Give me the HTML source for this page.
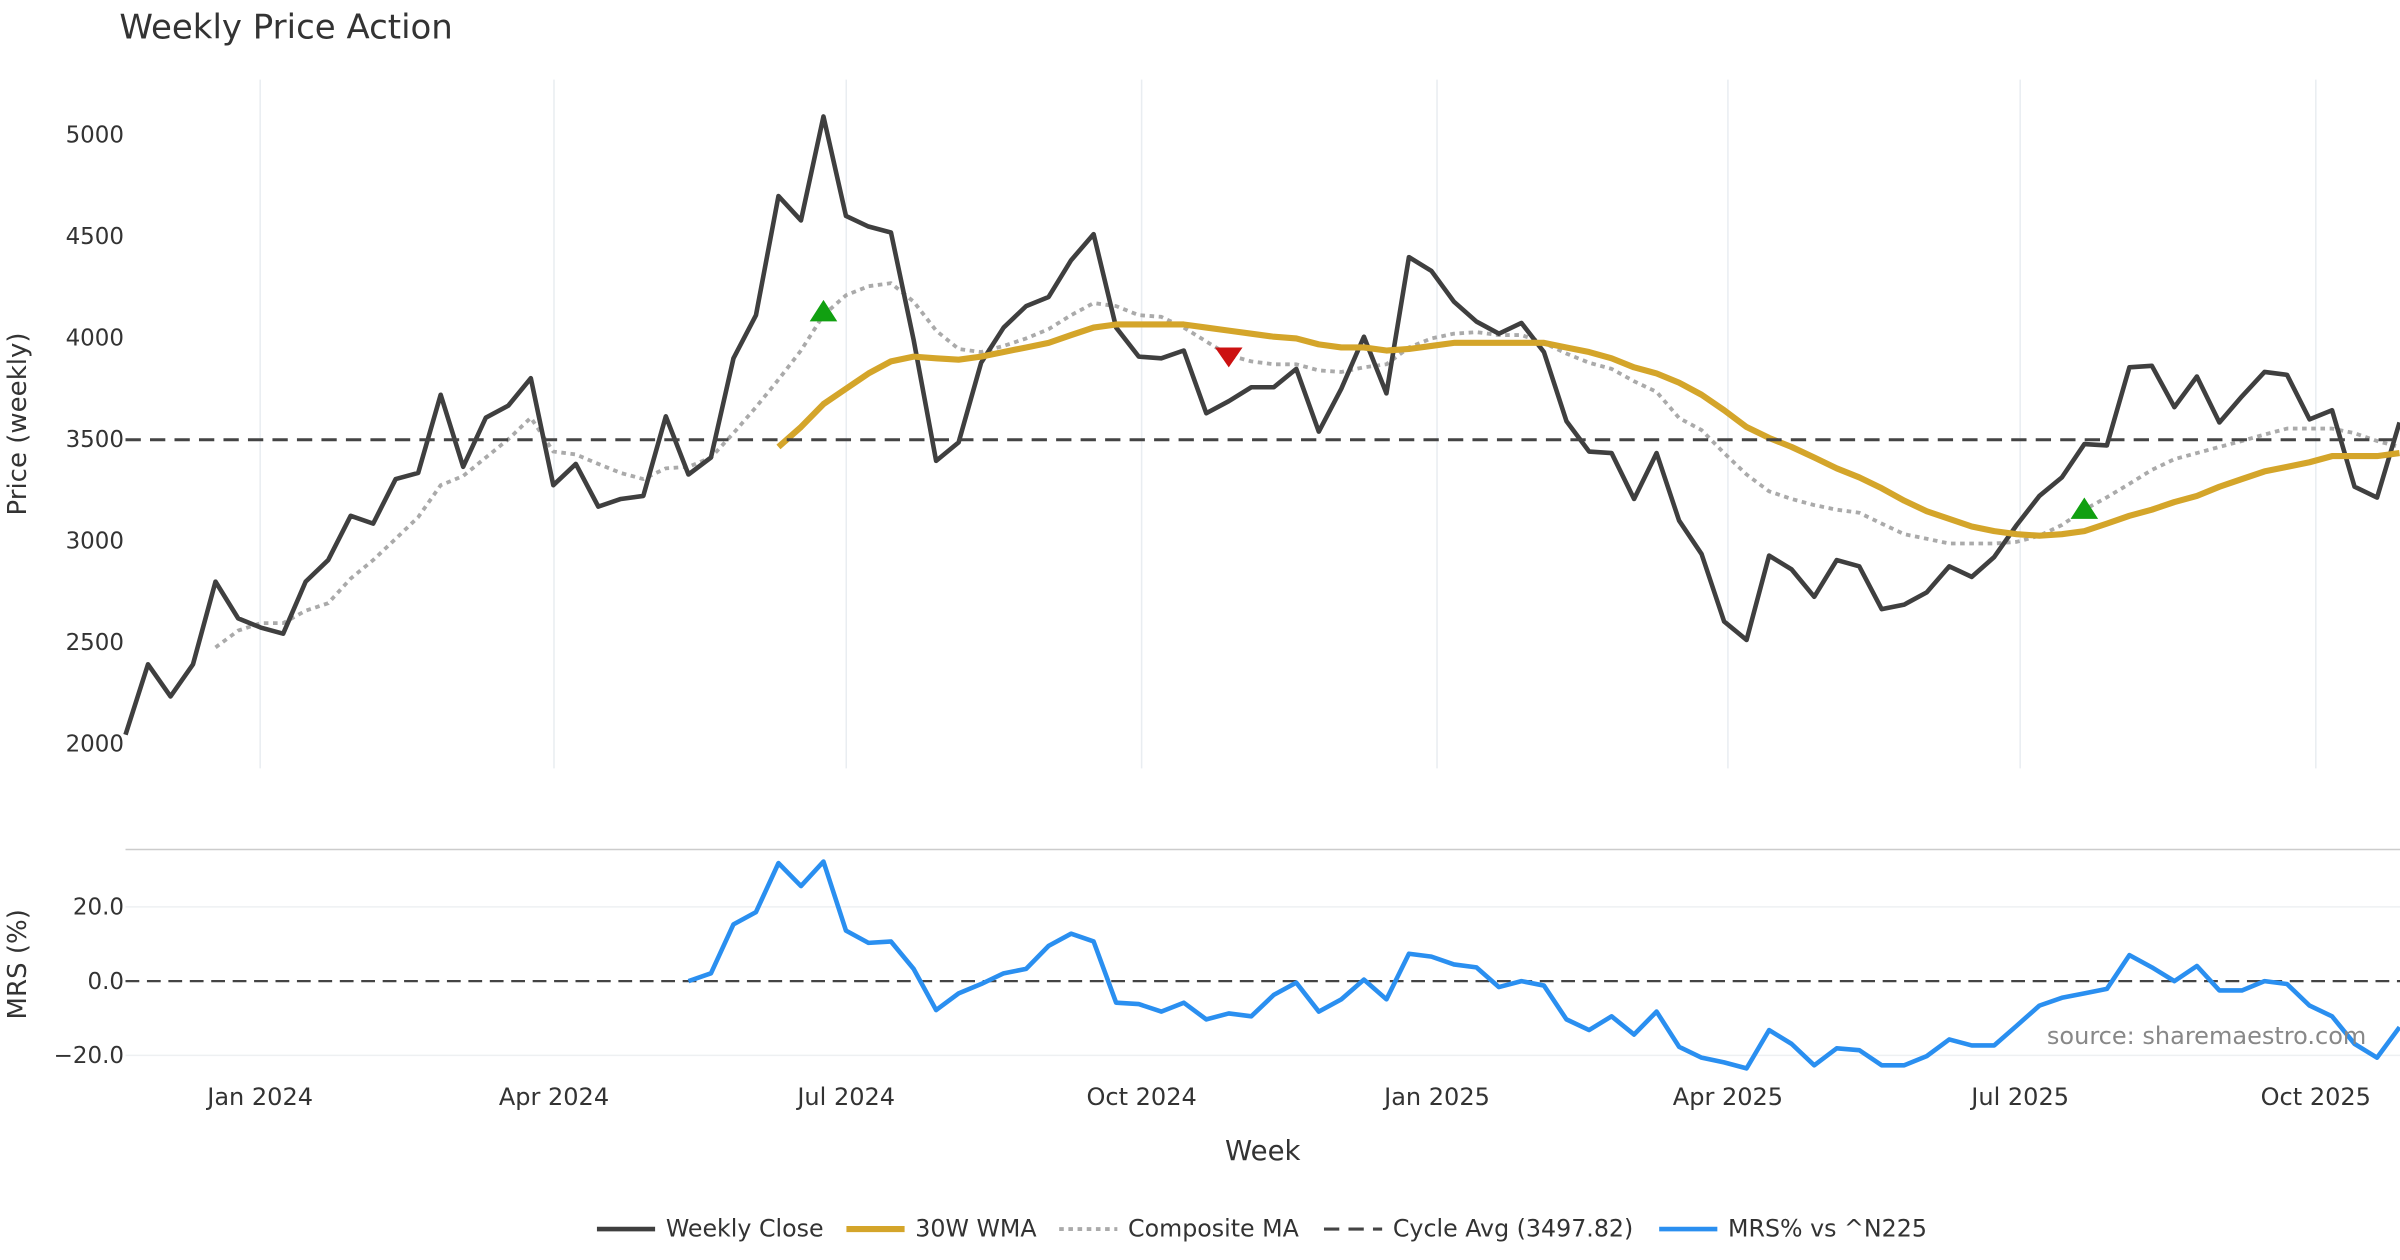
<!DOCTYPE html>
<html><head><meta charset="utf-8"><style>
html,body{margin:0;padding:0;background:#fff;}
svg{display:block;font-family:"DejaVu Sans","Liberation Sans",sans-serif;}
</style></head><body>
<svg id="chart" width="2400" height="1260" viewBox="0 0 1568 823.2" xmlns="http://www.w3.org/2000/svg">
<text x="78" y="25" font-size="22.2" fill="#333">Weekly Price Action</text>
<g id="grid"></g>
<g id="axes"></g>
<g id="series"></g>
<text x="1546" y="682" font-size="15.7" fill="#888" text-anchor="end">source: sharemaestro.com</text>
<text x="825" y="758" font-size="18" fill="#333" text-anchor="middle">Week</text>
<text transform="translate(17,277) rotate(-90)" font-size="17" fill="#333" text-anchor="middle">Price (weekly)</text>
<text transform="translate(17,630) rotate(-90)" font-size="17" fill="#333" text-anchor="middle">MRS (%)</text>
<g id="legend"></g>
</svg>
<script>
const closeVals=[2045,2392,2234,2392,2799,2618,2573,2543,2799,2905,3123,3085,3304,3334,3719,3364,3606,3666,3801,3274,3379,3168,3206,3221,3613,3327,3410,3899,4111,4698,4578,5090,4600,4548,4518,3990,3394,3485,3877,4050,4156,4201,4382,4510,4050,3907,3899,3937,3628,3688,3756,3756,3847,3538,3749,4005,3726,4397,4329,4178,4080,4020,4073,3930,3590,3440,3432,3206,3432,3100,2935,2603,2512,2927,2859,2724,2905,2874,2663,2686,2746,2874,2822,2920,3078,3221,3312,3477,3470,3854,3862,3658,3809,3583,3711,3832,3817,3598,3643,3266,3213,3583];
const wmaStart=29;
const wmaVals=[3462,3560,3673,3749,3824,3884,3907,3899,3892,3907,3930,3952,3975,4013,4050,4065,4065,4065,4065,4050,4035,4020,4005,3997,3967,3952,3952,3937,3945,3960,3975,3975,3975,3975,3975,3952,3930,3899,3854,3824,3779,3719,3643,3560,3507,3462,3410,3357,3312,3259,3198,3146,3108,3070,3048,3033,3025,3033,3048,3085,3123,3153,3191,3221,3266,3304,3342,3364,3387,3417,3417,3417,3432];
const compStart=4;
const compVals=[2475,2558,2595,2595,2656,2693,2814,2905,3010,3116,3274,3319,3410,3500,3606,3440,3425,3379,3334,3304,3357,3364,3410,3530,3658,3794,3937,4111,4209,4254,4269,4178,4035,3945,3930,3960,3997,4043,4111,4171,4156,4111,4103,4050,3982,3914,3884,3869,3869,3839,3832,3854,3869,3952,3997,4020,4028,4013,4013,3975,3922,3877,3847,3786,3734,3605,3545,3432,3327,3244,3206,3176,3153,3138,3085,3033,3010,2987,2987,2987,2995,3025,3078,3153,3214,3281,3349,3402,3432,3462,3492,3523,3553,3553,3553,3530,3492,3462];
const mrsStart=25;
const mrsVals=[0,2.1,15.3,18.6,31.8,25.6,32.2,13.6,10.3,10.7,3.3,-7.8,-3.3,-0.8,2.1,3.3,9.5,12.8,10.7,-5.8,-6.2,-8.2,-5.8,-10.3,-8.7,-9.5,-3.7,-0.4,-8.2,-4.9,0.4,-4.9,7.4,6.6,4.5,3.7,-1.6,0,-1.2,-10.3,-13.2,-9.5,-14.4,-8.2,-17.7,-20.6,-21.9,-23.5,-13.2,-16.9,-22.7,-18.1,-18.6,-22.7,-22.7,-20.2,-15.7,-17.3,-17.3,-12.0,-6.6,-4.5,-3.3,-2.1,7.0,3.7,0,4.1,-2.5,-2.5,0,-0.8,-6.6,-9.5,-16.9,-20.6,-12.4];
const cycleAvg=3497.82;
const priceTicks=[2000,2500,3000,3500,4000,4500,5000];
const mrsTicks=[20,0,-20];
const mrsTickLabels=["20.0","0.0","\u221220.0"];
const monthLabels=["Jan 2024","Apr 2024","Jul 2024","Oct 2024","Jan 2025","Apr 2025","Jul 2025","Oct 2025"];
const monthWeekPos=[5.98,19.03,32.01,45.13,58.25,71.17,84.15,97.28];
const buyIdx=[31,87]; const buyVals=[4126,3153];
const sellIdx=[49]; const sellVals=[3907];

const NS="http://www.w3.org/2000/svg";
const xS=i=>82+14.71*i;
const yP=v=>88+(5000-v)*398/3000;
const yM=v=>641-v*2.425;
function mk(tag,attrs,parent){const e=document.createElementNS(NS,tag);for(const k in attrs)e.setAttribute(k,attrs[k]);parent.appendChild(e);return e;}
const grid=document.getElementById('grid'),axes=document.getElementById('axes'),ser=document.getElementById('series'),leg=document.getElementById('legend');

monthWeekPos.forEach((w,k)=>{
 const g=mk('line',{x1:xS(w),x2:xS(w),y1:52,y2:502,stroke:'#e9edf1','stroke-width':1},grid);
 
 
 const t=mk('text',{x:xS(w),y:722,'font-size':15.7,fill:'#333','text-anchor':'middle'},axes);
 t.textContent=monthLabels[k];
 
 
});
priceTicks.forEach(v=>{
 const t=mk('text',{x:81,y:yP(v)+5,'font-size':15,fill:'#333','text-anchor':'end'},axes);
 t.textContent=v;
 
 
});
const sep=mk('line',{x1:82,x2:1568,y1:555,y2:555,stroke:'#cccccc','stroke-width':1},grid);


mrsTicks.forEach((v,k)=>{
 if(v!==0){const l=mk('line',{x1:82,x2:1568,y1:yM(v),y2:yM(v),stroke:'#eef0f2','stroke-width':1},grid);
 
 }
 const t=mk('text',{x:81,y:yM(v)+5,'font-size':15,fill:'#333','text-anchor':'end'},axes);
 t.textContent=mrsTickLabels[k];
 
 
});
const z=mk('line',{x1:82,x2:1568,y1:yM(0),y2:yM(0),stroke:'#444','stroke-width':1.5,'stroke-dasharray':'9,5'},grid);



function poly(vals,start,yf,attrs,name){
 const pts=vals.map((v,i)=>xS(start+i).toFixed(1)+','+yf(v).toFixed(1)).join(' ');
 const p=mk('polyline',Object.assign({points:pts,fill:'none','stroke-linejoin':'round'},attrs),ser);
 
 
}
poly(compVals,compStart,yP,{stroke:'#aaaaaa','stroke-width':2.5,'stroke-dasharray':'3,3'},'composite-ma-line');
poly(closeVals,0,yP,{stroke:'#3f3f3f','stroke-width':3},'weekly-close-line');
poly(wmaVals,wmaStart,yP,{stroke:'#d4a52a','stroke-width':4},'wma-30w-line');
const ca=mk('line',{x1:82,x2:1568,y1:yP(cycleAvg),y2:yP(cycleAvg),stroke:'#444','stroke-width':2,'stroke-dasharray':'10,6'},ser);


poly(mrsVals,mrsStart,yM,{stroke:'#2a8ff0','stroke-width':3},'mrs-line');
buyIdx.forEach((i,k)=>{const x=xS(i),y=yP(buyVals[k]);
 const m=mk('polygon',{points:`${x-9},${y+6} ${x+9},${y+6} ${x},${y-8}`,fill:'#11a011'},ser);
 
 });
sellIdx.forEach((i,k)=>{const x=xS(i),y=yP(sellVals[k]);
 const m=mk('polygon',{points:`${x-9},${y-6} ${x+9},${y-6} ${x},${y+7}`,fill:'#cc1111'},ser);
 
 });

const legItems=[[390,'Weekly Close',{stroke:'#3f3f3f','stroke-width':3}],[553,'30W WMA',{stroke:'#d4a52a','stroke-width':4}],[692,'Composite MA',{stroke:'#aaaaaa','stroke-width':2.5,'stroke-dasharray':'3,3'}],[865,'Cycle Avg (3497.82)',{stroke:'#444','stroke-width':2,'stroke-dasharray':'10,6'}],[1084,'MRS% vs ^N225',{stroke:'#2a8ff0','stroke-width':3}]];
legItems.forEach(([x,label,st])=>{
 const l=mk('line',Object.assign({x1:x,x2:x+38,y1:803,y2:803},st),leg);
 
 
 const t=mk('text',{x:x+45,y:808,'font-size':15.5,fill:'#333'},leg);
 t.textContent=label;
 
 
});
</script>
</body></html>
